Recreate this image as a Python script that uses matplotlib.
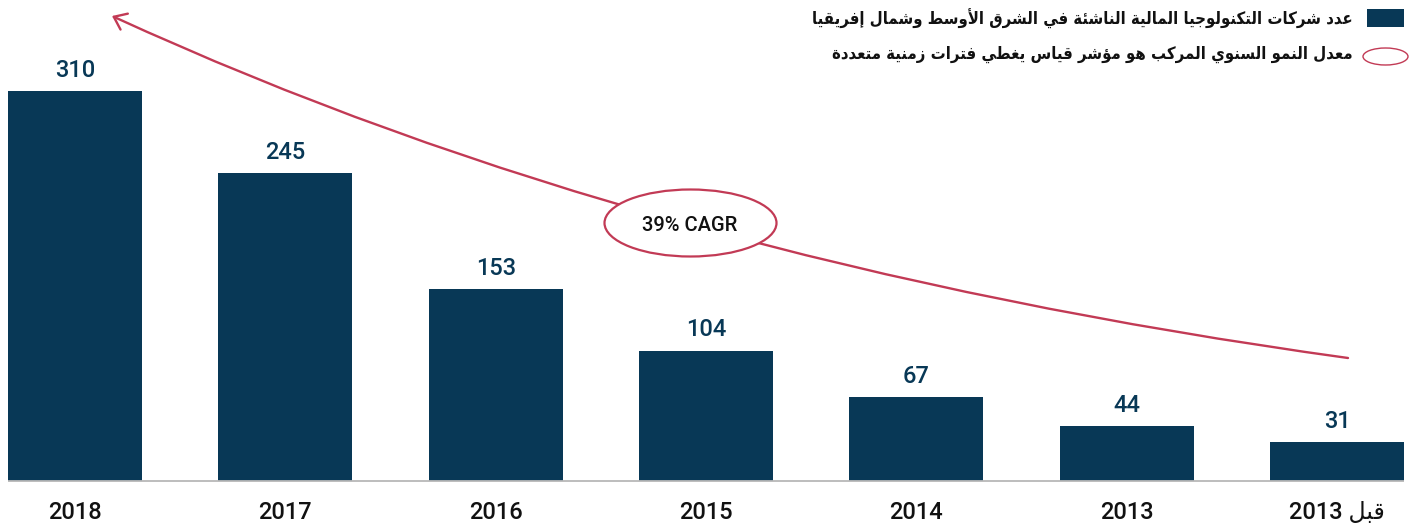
import numpy as np
import matplotlib
matplotlib.use('Agg')
import matplotlib.pyplot as plt
from matplotlib.patches import FancyArrowPatch, Ellipse, Rectangle
from matplotlib.path import Path

# ---------------- data ----------------
categories = ['2018', '2017', '2016', '2015', '2014', '2013', 'قبل 2013']
values = [310, 245, 153, 104, 67, 44, 31]
legend_bars = 'عدد شركات التكنولوجيا المالية الناشئة في الشرق الأوسط وشمال إفريقيا'
legend_cagr = 'معدل النمو السنوي المركب هو مؤشر قياس يغطي فترات زمنية متعددة'
cagr_label = '39% CAGR'

NAVY = '#083856'
RED = '#c23a55'

# ---------------- minimal Arabic shaping (matplotlib has no shaping/bidi) ----------------
DUAL = {0x626: 0xFE89, 0x628: 0xFE8F, 0x62A: 0xFE95, 0x62B: 0xFE99, 0x62C: 0xFE9D,
        0x62D: 0xFEA1, 0x62E: 0xFEA5, 0x633: 0xFEB1, 0x634: 0xFEB5, 0x635: 0xFEB9,
        0x636: 0xFEBD, 0x637: 0xFEC1, 0x638: 0xFEC5, 0x639: 0xFEC9, 0x63A: 0xFECD,
        0x641: 0xFED1, 0x642: 0xFED5, 0x643: 0xFED9, 0x644: 0xFEDD, 0x645: 0xFEE1,
        0x646: 0xFEE5, 0x647: 0xFEE9, 0x64A: 0xFEF1}
RIGHT = {0x622: 0xFE81, 0x623: 0xFE83, 0x624: 0xFE85, 0x625: 0xFE87, 0x627: 0xFE8D,
         0x629: 0xFE93, 0x62F: 0xFEA9, 0x630: 0xFEAB, 0x631: 0xFEAD, 0x632: 0xFEAF,
         0x648: 0xFEED, 0x649: 0xFEEF}
NONE = {0x621: 0xFE80}
LAMALEF = {0x622: 0xFEF5, 0x623: 0xFEF7, 0x625: 0xFEF9, 0x627: 0xFEFB}


def shape_word(word):
    units = []
    i = 0
    while i < len(word):
        c = ord(word[i])
        if c == 0x644 and i + 1 < len(word) and ord(word[i + 1]) in LAMALEF:
            units.append(('R', LAMALEF[ord(word[i + 1])]))
            i += 2
            continue
        if c in DUAL:
            units.append(('D', DUAL[c]))
        elif c in RIGHT:
            units.append(('R', RIGHT[c]))
        elif c in NONE:
            units.append(('U', NONE[c]))
        else:
            units.append(('X', c))
        i += 1
    out = []
    for k, (kind, b) in enumerate(units):
        prev_j = k > 0 and units[k - 1][0] == 'D' and kind in 'DR'
        next_j = kind == 'D' and k + 1 < len(units) and units[k + 1][0] in 'DR'
        if kind == 'D':
            cp = b + (3 if prev_j and next_j else 1 if prev_j else 2 if next_j else 0)
        elif kind == 'R':
            cp = b + (1 if prev_j else 0)
        else:
            cp = b
        out.append(chr(cp))
    return ''.join(out)


def visual(text):
    words = text.split(' ')
    res = []
    for w in reversed(words):
        if any(0x600 <= ord(ch) <= 0x6FF for ch in w):
            res.append(shape_word(w)[::-1])
        else:
            res.append(w)
    return ' '.join(res)


# ---------------- figure ----------------
W, H = 1421, 529
fig = plt.figure(figsize=(W / 100, H / 100), dpi=100)
ax = fig.add_axes([0, 0, 1, 1])
ax.axis('off')

x = np.arange(len(values))
bar_w = 0.637
ax.set_xlim(-0.3566, 6.399)
ax.set_ylim(-37.76, 382.7)

ax.bar(x, values, width=bar_w, color=NAVY, zorder=2)
ax.plot([x[0] - bar_w / 2, x[-1] + bar_w / 2], [0, 0], color='#b8b8b8', lw=1.3, zorder=3,
        solid_capstyle='butt')

num_font = ['Roboto', 'DejaVu Sans']
for xi, v in zip(x, values):
    ax.annotate(str(v), (xi, v), xytext=(0, 15), textcoords='offset points',
                ha='center', va='center', fontsize=17, color=NAVY,
                family=num_font, weight='medium')

for xi, c in zip(x, categories):
    ax.annotate(visual(c), (xi, 0), xytext=(0, -22), textcoords='offset points',
                ha='center', va='center', fontsize=17, color='#111111',
                family=num_font, weight='medium')


def fp(px, py):
    return (px / W, 1 - py / H)


# CAGR curve with arrow
verts = [fp(1348, 358), fp(646, 261.5), fp(112, 16)]
path = Path(verts, [Path.MOVETO, Path.CURVE3, Path.CURVE3])
arrow = FancyArrowPatch(path=path, arrowstyle='->,head_length=0.55,head_width=0.42',
                        mutation_scale=15, transform=fig.transFigure, color=RED, lw=1.7,
                        zorder=4)
fig.add_artist(arrow)

ell = Ellipse(fp(690.5, 223), width=172 / W, height=67 / H, transform=fig.transFigure,
              facecolor='white', edgecolor=RED, lw=1.6, zorder=5)
fig.add_artist(ell)
fig.text(*fp(690, 225), cagr_label, ha='center', va='center', fontsize=14.5,
         family=num_font, weight='medium', color='#111111', zorder=6)

# legend
fig.add_artist(Rectangle(fp(1367, 27), 37 / W, 18 / H, transform=fig.transFigure,
                         facecolor=NAVY, edgecolor='none'))
fig.add_artist(Ellipse(fp(1385.5, 56.5), width=45 / W, height=17 / H,
                       transform=fig.transFigure, facecolor='white', edgecolor=RED, lw=1.0))
fig.text(*fp(1353, 19), visual(legend_bars), ha='right', va='center', fontsize=12,
         family=['DejaVu Sans'], stretch='condensed', weight='bold', color='#111111')
fig.text(*fp(1353, 54), visual(legend_cagr), ha='right', va='center', fontsize=12,
         family=['DejaVu Sans'], stretch='condensed', weight='bold', color='#111111')

fig.savefig('out.png', dpi=100)
